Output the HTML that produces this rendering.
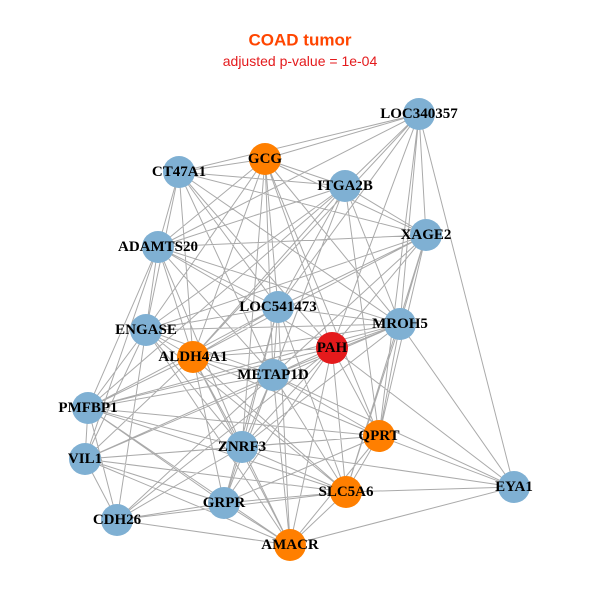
<!DOCTYPE html><html><head><meta charset="utf-8"><style>body{margin:0;background:#fff}svg{display:block}text{font-family:"Liberation Serif",serif;font-weight:bold;font-size:15px;text-anchor:middle;dominant-baseline:central}</style></head><body>
<svg width="600" height="600" viewBox="0 0 600 600">
<rect width="600" height="600" fill="#fff"/>
<text x="300" y="40" style="font-family:'Liberation Sans',sans-serif;font-size:17px;fill:#FF4500">COAD tumor</text>
<text x="300" y="61" style="font-family:'Liberation Sans',sans-serif;font-weight:normal;font-size:14px;fill:#E41A1C">adjusted p-value = 1e-04</text>
<path fill="none" stroke="#aaa" stroke-width="1" d="
M419 114L265 159M419 114L179 172M419 114L345 186M419 114L426 235M419 114L400 324M419 114L278 307M419 114L332 348M419 114L379 436M419 114L514 487M419 114L158 247M419 114L193 357
M265 159L179 172M265 159L345 186M265 159L426 235M265 159L158 247M265 159L278 307M265 159L400 324M265 159L146 330M265 159L193 357M265 159L273 375M265 159L332 348M265 159L379 436M265 159L242 447
M179 172L345 186M179 172L158 247M179 172L146 330M179 172L193 357M179 172L278 307M179 172L332 348M179 172L400 324M179 172L273 375M179 172L426 235
M345 186L426 235M345 186L158 247M345 186L278 307M345 186L400 324M345 186L146 330M345 186L193 357M345 186L273 375M345 186L379 436M345 186L224 503M345 186L88 408
M426 235L158 247M426 235L278 307M426 235L400 324M426 235L146 330M426 235L332 348M426 235L193 357M426 235L273 375M426 235L379 436M426 235L346 492
M158 247L146 330M158 247L193 357M158 247L278 307M158 247L400 324M158 247L273 375M158 247L88 408M158 247L242 447M158 247L85 459M158 247L332 348
M278 307L400 324M278 307L146 330M278 307L193 357M278 307L273 375M278 307L242 447M278 307L224 503M278 307L346 492M278 307L88 408M278 307L290 545
M400 324L146 330M400 324L332 348M400 324L193 357M400 324L273 375M400 324L379 436M400 324L514 487M400 324L346 492M400 324L242 447M400 324L88 408M400 324L85 459
M146 330L193 357M146 330L88 408M146 330L85 459M146 330L117 520M146 330L242 447M146 330L273 375M146 330L346 492M146 330L290 545
M332 348L193 357M332 348L273 375M332 348L379 436M332 348L242 447M332 348L346 492M332 348L88 408M332 348L224 503M332 348L117 520M332 348L290 545M332 348L514 487
M193 357L273 375M193 357L88 408M193 357L242 447M193 357L85 459M193 357L224 503M193 357L346 492M193 357L290 545M193 357L379 436
M273 375L88 408M273 375L242 447M273 375L85 459M273 375L224 503M273 375L346 492M273 375L379 436M273 375L290 545M273 375L117 520M273 375L514 487
M88 408L85 459M88 408L117 520M88 408L242 447M88 408L224 503M88 408L379 436M88 408L346 492M88 408L290 545
M379 436L242 447M379 436L514 487M379 436L346 492M379 436L290 545M379 436L224 503M379 436L85 459
M242 447L85 459M242 447L117 520M242 447L224 503M242 447L346 492M242 447L290 545M242 447L514 487
M85 459L117 520M85 459L224 503M85 459L346 492M85 459L290 545
M514 487L346 492M514 487L290 545M346 492L224 503M346 492L290 545M346 492L117 520M224 503L117 520M224 503L290 545M117 520L290 545"/>
<g stroke="none">
<circle cx="419" cy="114" r="16" fill="#7FB0D3"/>
<circle cx="265" cy="159" r="16" fill="#FF7F00"/>
<circle cx="179" cy="172" r="16" fill="#7FB0D3"/>
<circle cx="345" cy="186" r="16" fill="#7FB0D3"/>
<circle cx="426" cy="235" r="16" fill="#7FB0D3"/>
<circle cx="158" cy="247" r="16" fill="#7FB0D3"/>
<circle cx="278" cy="307" r="16" fill="#7FB0D3"/>
<circle cx="400" cy="324" r="16" fill="#7FB0D3"/>
<circle cx="146" cy="330" r="16" fill="#7FB0D3"/>
<circle cx="332" cy="348" r="16" fill="#E41A1C"/>
<circle cx="193" cy="357" r="16" fill="#FF7F00"/>
<circle cx="273" cy="375" r="16" fill="#7FB0D3"/>
<circle cx="88" cy="408" r="16" fill="#7FB0D3"/>
<circle cx="379" cy="436" r="16" fill="#FF7F00"/>
<circle cx="242" cy="447" r="16" fill="#7FB0D3"/>
<circle cx="85" cy="459" r="16" fill="#7FB0D3"/>
<circle cx="514" cy="487" r="16" fill="#7FB0D3"/>
<circle cx="346" cy="492" r="16" fill="#FF7F00"/>
<circle cx="224" cy="503" r="16" fill="#7FB0D3"/>
<circle cx="117" cy="520" r="16" fill="#7FB0D3"/>
<circle cx="290" cy="545" r="16" fill="#FF7F00"/>
</g>
<g>
<text x="419" y="114">LOC340357</text>
<text x="265" y="159">GCG</text>
<text x="179" y="172">CT47A1</text>
<text x="345" y="186">ITGA2B</text>
<text x="426" y="235">XAGE2</text>
<text x="158" y="247">ADAMTS20</text>
<text x="278" y="307">LOC541473</text>
<text x="400" y="324">MROH5</text>
<text x="146" y="330">ENGASE</text>
<text x="332" y="348">PAH</text>
<text x="193" y="357">ALDH4A1</text>
<text x="273" y="375">METAP1D</text>
<text x="88" y="408">PMFBP1</text>
<text x="379" y="436">QPRT</text>
<text x="242" y="447">ZNRF3</text>
<text x="85" y="459">VIL1</text>
<text x="514" y="487">EYA1</text>
<text x="346" y="492">SLC5A6</text>
<text x="224" y="503">GRPR</text>
<text x="117" y="520">CDH26</text>
<text x="290" y="545">AMACR</text>
</g>
</svg></body></html>
